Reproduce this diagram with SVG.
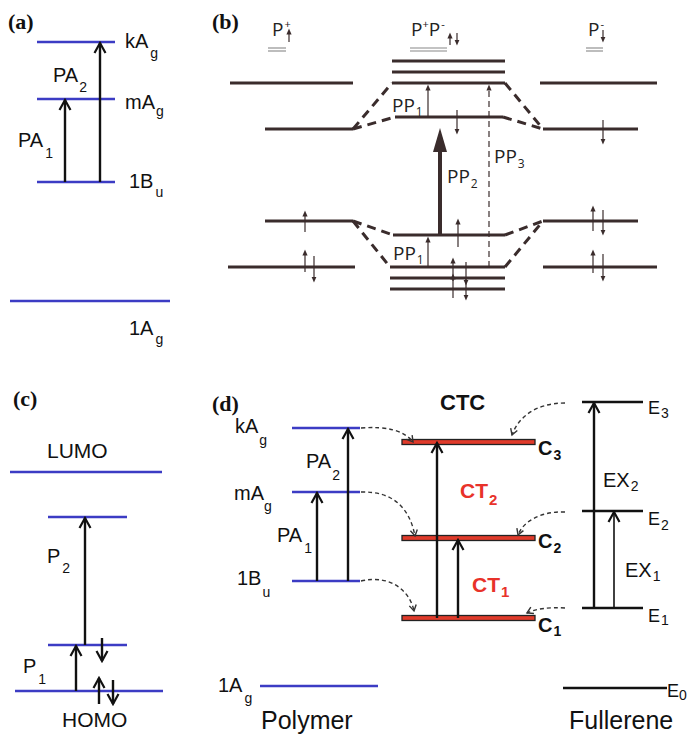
<svg xmlns="http://www.w3.org/2000/svg" width="689" height="736" viewBox="0 0 689 736">
<style>
.bg{fill:#fff}
.blue{stroke:#3c3cc4;stroke-width:2.4;fill:none}
.blk{stroke:#111;stroke-width:2.4;fill:none}
.arr{stroke:#111;stroke-width:2.4;fill:none;marker-end:url(#chev)}
.arrt{stroke:#111;stroke-width:1.6;fill:none;marker-end:url(#chev)}
.lvl{stroke:#3a2c2c;stroke-width:3;fill:none}
.dsh{stroke:#3a2c2c;stroke-width:3;fill:none;stroke-dasharray:9 6}
.spin{stroke:#3a2c2c;stroke-width:1.2;fill:none;marker-end:url(#tri)}
.ul{stroke:#888;stroke-width:1.1}
.cur{stroke:#333;stroke-width:1.4;fill:none;stroke-dasharray:4 3;marker-end:url(#chevs)}
.ctc{fill:#e03a2a;stroke:#222;stroke-width:1.3}
.pl{font-family:"Liberation Serif",serif;font-weight:bold;font-size:22px;fill:#111}
.lab{font-family:"Liberation Sans",Arial,sans-serif;font-size:20px;fill:#111}
.bt{font-family:"Open Sans",sans-serif;font-size:19px;fill:#222}
.sub{font-size:14px}
.bsub{font-size:12px}
.sup{font-size:11px}
.red{fill:#e8322a;font-weight:bold}
.bold{font-weight:bold}
</style>
<defs>
<marker id="chev" markerUnits="userSpaceOnUse" viewBox="-12 -7 14 14" markerWidth="14" markerHeight="14" refX="0" refY="0" orient="auto">
<path d="M-10,-5.5 L0,0 L-10,5.5" fill="none" stroke="#111" stroke-width="2.2"/>
</marker>
<marker id="chevs" markerUnits="userSpaceOnUse" viewBox="-8 -5 10 10" markerWidth="10" markerHeight="10" refX="0" refY="0" orient="auto">
<path d="M-6,-3.5 L0,0 L-6,3.5" fill="none" stroke="#333" stroke-width="1.4"/>
</marker>
<marker id="tri" markerUnits="userSpaceOnUse" viewBox="0 -4 8 8" markerWidth="8" markerHeight="8" refX="0.5" refY="0" orient="auto">
<path d="M0,-2.6 L6,0 L0,2.6 Z" fill="#3a2c2c"/>
</marker>
<marker id="big" markerUnits="userSpaceOnUse" viewBox="0 -8 26 16" markerWidth="26" markerHeight="16" refX="2" refY="0" orient="auto">
<path d="M0,-7 L24,0 L0,7 Z" fill="#3a2c2c"/>
</marker>
</defs>
<rect class="bg" x="0" y="0" width="689" height="736"/>

<!-- Panel (a) -->
<g id="panel-a">
<text class="pl" x="8" y="29">(a)</text>
<g id="a-kAg"><line class="blue" x1="37" y1="42" x2="115" y2="42"/><text class="lab" x="125" y="48">kA<tspan class="sub" dx="2" dy="10">g</tspan></text></g>
<g id="a-mAg"><line class="blue" x1="37" y1="99" x2="115" y2="99"/><text class="lab" x="125" y="109">mA<tspan class="sub" dx="1" dy="7">g</tspan></text></g>
<g id="a-1Bu"><line class="blue" x1="37" y1="182" x2="115" y2="182"/><text class="lab" x="129" y="188">1B<tspan class="sub" dx="2" dy="9">u</tspan></text></g>
<g id="a-1Ag"><line class="blue" x1="10" y1="301" x2="170" y2="301"/><text class="lab" x="129" y="335">1A<tspan class="sub" dx="2" dy="9">g</tspan></text></g>
<g id="a-arrows">
<line class="arr" x1="65" y1="182" x2="65" y2="100"/>
<line class="arr" x1="100" y1="182" x2="100" y2="43"/>
<text class="lab" x="53" y="82">PA<tspan class="sub" dx="1" dy="10">2</tspan></text>
<text class="lab" x="18" y="147">PA<tspan class="sub" dx="2" dy="11">1</tspan></text>
</g>
</g>

<!-- Panel (b) -->
<g id="panel-b">
<text class="pl" x="212" y="29">(b)</text>
<g id="b-Pplus">
<text class="bt" x="272" y="36">P<tspan class="sup" dx="1" dy="-8">+</tspan></text>
<line class="spin" x1="289" y1="42" x2="289" y2="34"/>
<line class="ul" x1="268" y1="48" x2="286" y2="48"/><line class="ul" x1="268" y1="51" x2="286" y2="51"/>
<line class="lvl" x1="230" y1="83" x2="353" y2="83"/>
<line class="lvl" x1="265" y1="129" x2="353" y2="129"/>
<line class="lvl" x1="265" y1="221" x2="353" y2="221"/>
<line class="lvl" x1="228" y1="267" x2="355" y2="267"/>
</g>
<g id="b-PP">
<text class="bt" x="411" y="36">P<tspan class="sup" dy="-8">+</tspan><tspan dy="8">P</tspan><tspan class="sup" dx="1" dy="-8">-</tspan></text>
<line class="spin" x1="450" y1="45" x2="450" y2="38"/>
<line class="spin" x1="457" y1="33" x2="457" y2="40"/>
<line class="ul" x1="410" y1="48" x2="447" y2="48"/><line class="ul" x1="410" y1="51" x2="447" y2="51"/>
<line class="lvl" x1="392" y1="61" x2="505" y2="61"/>
<line class="lvl" x1="392" y1="72" x2="505" y2="72"/>
<line class="lvl" x1="392" y1="83" x2="505" y2="83"/>
<line class="lvl" x1="395" y1="117" x2="503" y2="117"/>
<line class="lvl" x1="393" y1="235" x2="505" y2="235"/>
<line class="lvl" x1="390" y1="267" x2="505" y2="267"/>
<line class="lvl" x1="390" y1="278" x2="505" y2="278"/>
<line class="lvl" x1="390" y1="289" x2="505" y2="289"/>
</g>
<g id="b-Pminus">
<text class="bt" x="588" y="36">P<tspan class="sup" dx="1" dy="-8">-</tspan></text>
<line class="spin" x1="603" y1="30" x2="603" y2="37"/>
<line class="ul" x1="586" y1="48" x2="603" y2="48"/><line class="ul" x1="586" y1="51" x2="603" y2="51"/>
<line class="lvl" x1="540" y1="83" x2="657" y2="83"/>
<line class="lvl" x1="543" y1="129" x2="638" y2="129"/>
<line class="lvl" x1="543" y1="221" x2="638" y2="221"/>
<line class="lvl" x1="543" y1="267" x2="657" y2="267"/>
</g>
<g id="b-connectors">
<line class="dsh" x1="353" y1="129" x2="392" y2="83"/>
<line class="dsh" x1="353" y1="129" x2="395" y2="117"/>
<line class="dsh" x1="505" y1="83" x2="543" y2="129"/>
<line class="dsh" x1="503" y1="117" x2="543" y2="129"/>
<line class="dsh" x1="353" y1="221" x2="393" y2="235"/>
<line class="dsh" x1="353" y1="221" x2="390" y2="267"/>
<line class="dsh" x1="505" y1="235" x2="543" y2="221"/>
<line class="dsh" x1="505" y1="267" x2="543" y2="221"/>
</g>
<g id="b-transitions">
<line x1="440" y1="235" x2="440" y2="150" stroke="#3a2c2c" stroke-width="4" marker-end="url(#big)"/>
<line class="spin" x1="428" y1="117" x2="428" y2="90"/>
<line class="spin" x1="428" y1="267" x2="428" y2="242"/>
<line class="spin" x1="489" y1="267" x2="489" y2="90" stroke-dasharray="6 4"/>
<text class="bt" x="392" y="112">PP<tspan class="bsub" dx="1" dy="4">1</tspan></text>
<text class="bt" x="393" y="260">PP<tspan class="bsub" dx="1" dy="4">1</tspan></text>
<text class="bt" x="447" y="183">PP<tspan class="bsub" dx="1" dy="5">2</tspan></text>
<text class="bt" x="494" y="163">PP<tspan class="bsub" dx="1" dy="5">3</tspan></text>
</g>
<g id="b-spins">
<line class="spin" x1="457" y1="110" x2="457" y2="129"/>
<line class="spin" x1="603" y1="120" x2="603" y2="139"/>
<line class="spin" x1="305" y1="232" x2="305" y2="216"/>
<line class="spin" x1="305" y1="272" x2="305" y2="255"/>
<line class="spin" x1="314" y1="256" x2="314" y2="277"/>
<line class="spin" x1="458" y1="247" x2="458" y2="224"/>
<line class="spin" x1="453" y1="281" x2="453" y2="263"/>
<line class="spin" x1="453" y1="298" x2="453" y2="279"/>
<line class="spin" x1="466" y1="262" x2="466" y2="280"/>
<line class="spin" x1="466" y1="278" x2="466" y2="295"/>
<line class="spin" x1="593" y1="231" x2="593" y2="211"/>
<line class="spin" x1="603" y1="210" x2="603" y2="230"/>
<line class="spin" x1="593" y1="273" x2="593" y2="255"/>
<line class="spin" x1="603" y1="254" x2="603" y2="276"/>
</g>
</g>

<!-- Panel (c) -->
<g id="panel-c">
<text class="pl" x="13" y="406">(c)</text>
<g id="c-LUMO"><line class="blue" x1="10" y1="472" x2="162" y2="472"/><text class="lab" x="47" y="458" style="font-size:21px">LUMO</text></g>
<g id="c-upper"><line class="blue" x1="48" y1="517" x2="127" y2="517"/></g>
<g id="c-middle"><line class="blue" x1="48" y1="645" x2="127" y2="645"/></g>
<g id="c-HOMO"><line class="blue" x1="15" y1="691" x2="163" y2="691"/><text class="lab" x="62" y="727" style="font-size:21px">HOMO</text></g>
<g id="c-arrows">
<line class="arr" x1="85" y1="645" x2="85" y2="518"/>
<line class="arr" x1="76" y1="691" x2="76" y2="646"/>
<line class="arr" x1="102" y1="638" x2="102" y2="661"/>
<line class="arr" x1="99" y1="704" x2="99" y2="678"/>
<line class="arr" x1="113" y1="680" x2="113" y2="704"/>
<text class="lab" x="47" y="563">P<tspan class="sub" dx="2" dy="10">2</tspan></text>
<text class="lab" x="23" y="673">P<tspan class="sub" dx="2" dy="11">1</tspan></text>
</g>
</g>

<!-- Panel (d) -->
<g id="panel-d">
<text class="pl" x="212" y="411">(d)</text>
<g id="d-kAg"><line class="blue" x1="292" y1="428" x2="360" y2="428"/><text class="lab" x="235" y="433">kA<tspan class="sub" dx="1" dy="12">g</tspan></text></g>
<g id="d-mAg"><line class="blue" x1="292" y1="492" x2="360" y2="492"/><text class="lab" x="234" y="500">mA<tspan class="sub" dx="0" dy="11">g</tspan></text></g>
<g id="d-1Bu"><line class="blue" x1="292" y1="581" x2="360" y2="581"/><text class="lab" x="237" y="585">1B<tspan class="sub" dx="1" dy="12">u</tspan></text></g>
<g id="d-1Ag"><line class="blue" x1="260" y1="686" x2="378" y2="686"/><text class="lab" x="218" y="692">1A<tspan class="sub" dx="2" dy="11">g</tspan></text></g>
<text class="lab" x="261" y="729" style="font-size:25px">Polymer</text>
<g id="d-C3"><rect class="ctc" x="402" y="439.5" width="133" height="5"/><text class="lab bold" x="538" y="455">C<tspan class="sub" dx="1" dy="5">3</tspan></text></g>
<g id="d-C2"><rect class="ctc" x="402" y="535.5" width="133" height="5"/><text class="lab bold" x="538" y="548">C<tspan class="sub" dx="1" dy="5">2</tspan></text></g>
<g id="d-C1"><rect class="ctc" x="402" y="615.5" width="133" height="5"/><text class="lab bold" x="538" y="632">C<tspan class="sub" dx="1" dy="4">1</tspan></text></g>
<text class="lab bold" x="440" y="410" style="font-size:22px">CTC</text>
<g id="d-E3"><line class="blk" x1="582" y1="402" x2="643" y2="402"/><text class="lab" x="648" y="414" style="font-size:18px">E<tspan class="sub" dx="1" dy="4">3</tspan></text></g>
<g id="d-E2"><line class="blk" x1="582" y1="511" x2="643" y2="511"/><text class="lab" x="648" y="525" style="font-size:18px">E<tspan class="sub" dx="1" dy="5">2</tspan></text></g>
<g id="d-E1"><line class="blk" x1="582" y1="608" x2="643" y2="608"/><text class="lab" x="648" y="622" style="font-size:18px">E<tspan class="sub" dx="1" dy="3">1</tspan></text></g>
<g id="d-E0"><line class="blk" x1="563" y1="688" x2="667" y2="688"/><text class="lab" x="667" y="697" style="font-size:18px">E<tspan class="sub" dx="0" dy="3">0</tspan></text></g>
<text class="lab" x="569" y="729" style="font-size:25px">Fullerene</text>
</g>

<g id="connectors">
<line class="arr" x1="317" y1="581" x2="317" y2="493"/>
<line class="arr" x1="348" y1="581" x2="348" y2="429"/>
<text class="lab" x="306" y="468">PA<tspan class="sub" dx="1" dy="12">2</tspan></text>
<text class="lab" x="277" y="542">PA<tspan class="sub" dx="2" dy="11">1</tspan></text>
<line class="arr" x1="437" y1="618" x2="437" y2="443"/>
<line class="arr" x1="458" y1="618" x2="458" y2="540"/>
<text class="lab red" x="460" y="498" style="font-size:21px">CT<tspan class="sub" style="font-size:15px" dx="1" dy="7">2</tspan></text>
<text class="lab red" x="472" y="592" style="font-size:21px">CT<tspan class="sub" style="font-size:15px" dx="1" dy="5">1</tspan></text>
<line class="arr" x1="594" y1="608" x2="594" y2="403"/>
<line class="arrt" x1="614" y1="608" x2="614" y2="512"/>
<text class="lab" x="603" y="487">EX<tspan class="sub" dx="1" dy="4">2</tspan></text>
<text class="lab" x="625" y="577">EX<tspan class="sub" dx="1" dy="4">1</tspan></text>
<path class="cur" d="M361,428 Q400,425 413,442"/>
<path class="cur" d="M361,492 C395,491 410,510 415,536"/>
<path class="cur" d="M361,581 C392,574 410,592 414,611"/>
<path class="cur" d="M565,403 C535,403 518,418 512,435"/>
<path class="cur" d="M565,512 C540,511 523,522 518,535"/>
<path class="cur" d="M565,608 C548,607 535,609 527,613"/>
</g>
</svg>
